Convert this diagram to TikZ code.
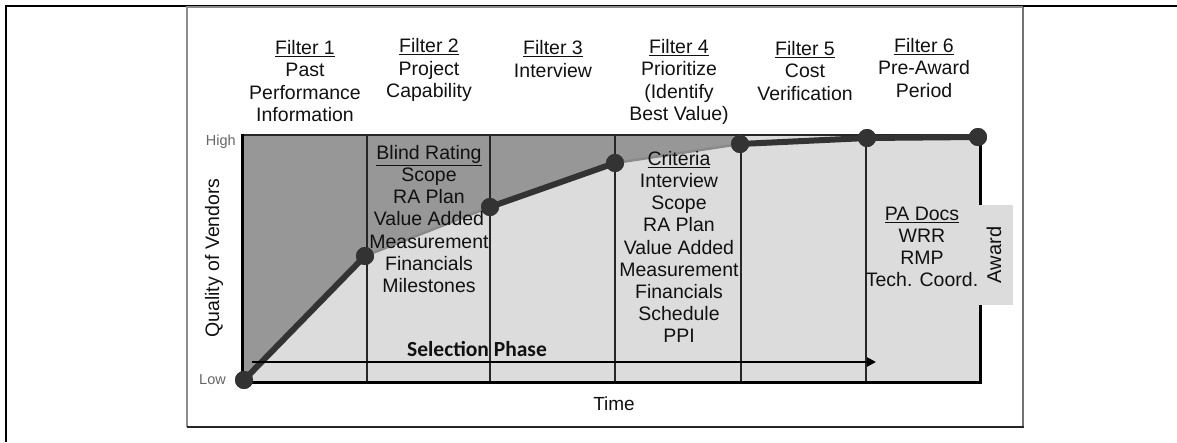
\documentclass[tikz,border=0pt]{standalone}
\usepackage{fontspec}
\setmainfont{Liberation Sans}
\newfontfamily\calib{Carlito}
\usetikzlibrary{arrows.meta}
\definecolor{darkfill}{HTML}{979797}
\definecolor{lightfill}{HTML}{DCDCDC}
\definecolor{curvec}{HTML}{333333}
\definecolor{softc}{HTML}{8A8A8A}
\definecolor{txt}{HTML}{111111}
\begin{document}
\begin{tikzpicture}[x=1pt,y=-1pt,
  lbl/.style={font=\fontsize{19.5}{22.2}\selectfont, align=center, inner sep=0pt, text=txt},
  dotnode/.style={circle, fill=curvec, minimum size=18pt, inner sep=0pt},
  heavyseg/.style={draw=curvec, line width=6pt, line cap=round},
  softseg/.style={draw=softc, line width=2.5pt},
  divider/.style={draw=black!85, line width=1.2pt},
  axisline/.style={draw=black, line width=3pt},
  smalllbl/.style={font=\fontsize{14.5}{16}\selectfont, text=black!60, inner sep=0pt}
]
\useasboundingbox (0,0) rectangle (1177,442);
% outer frame lines
\draw[line width=2pt] (6,442) -- (6,6) -- (1177,6);
% inner picture frame
\draw[draw=black!45, line width=1.2pt] (187,427) -- (187,7) -- (1023,7);
\draw[draw=black!55, line width=2pt] (1023,7) -- (1023,427);
\draw[draw=black!85, line width=2pt] (187,427) -- (1024,427);
% chart fills
\fill[lightfill] (242,135) rectangle (980,382);
\fill[darkfill] (242,135) -- (242,382) -- (365,256) -- (490,207) -- (615,163) -- (740,144) -- (740,135) -- cycle;
% dividers
\foreach \x in {367,490,615,741,866} \draw[divider] (\x,135) -- (\x,382);
% chart borders
\draw[draw=black!85, line width=1.5pt] (242,135) -- (980,135);
\draw[axisline] (242,133.5) -- (242,383.5);
\draw[axisline] (240.5,382) -- (981.5,382);
\draw[axisline] (980,135) -- (980,383.5);
% curve points
\node[dotnode] (p0) at (244,380) {};
\node[dotnode] (p1) at (365,256) {};
\node[dotnode] (p2) at (490,207) {};
\node[dotnode] (p3) at (615,163) {};
\node[dotnode] (p4) at (740,144) {};
\node[dotnode] (p5) at (867,138) {};
\node[dotnode] (p6) at (978,137) {};
\draw[heavyseg] (p0.center) -- (p1.center);
\draw[softseg] (p1.center) -- (p2.center);
\draw[heavyseg] (p2.center) -- (p3.center);
\draw[softseg] (p3.center) -- (p4.center);
\draw[heavyseg] (p4.center) -- (p5.center) -- (p6.center);
\node[dotnode] at (p0) {};
\node[dotnode] at (p1) {};
\node[dotnode] at (p2) {};
\node[dotnode] at (p3) {};
\node[dotnode] at (p4) {};
\node[dotnode] at (p5) {};
\node[dotnode] at (p6) {};
% selection phase arrow
\coordinate (sa) at (252,362);
\coordinate (sb) at (876,362);
\draw[line width=2pt, -{Triangle[length=9pt,width=9pt]}] (sa) -- (sb);
\node[font=\calib\bfseries\fontsize{21.5}{24}\selectfont, inner sep=0pt, text=txt] (sel) at (477,349) {Selection Phase};
% award
\node[font=\fontsize{20}{24}\selectfont, rotate=90, fill=lightfill, minimum width=100pt, minimum height=38pt, inner sep=0pt, text=txt] (award) at (994,255) {Award};
% headers
\node[lbl] (h1) at (305,81) {\underline{Filter 1}\\Past\\Performance\\Information};
\node[lbl] (h2) at (429,70) {\underline{Filter 2}\\Project\\Capability};
\node[lbl] (h3) at (553,59) {\underline{Filter 3}\\Interview};
\node[lbl] (h4) at (679,82) {\underline{Filter 4}\\Prioritize\\(Identify\\Best Value)};
\node[lbl] (h5) at (805,71) {\underline{Filter 5}\\Cost\\Verification};
\node[lbl] (h6) at (924,68) {\underline{Filter 6}\\Pre-Award\\Period};
% bodies
\node[lbl] (b2) at (429,219) {\underline{Blind Rating}\\Scope\\RA Plan\\Value Added\\Measurement\\Financials\\Milestones};
\node[lbl] (b4) at (679,247) {\underline{Criteria}\\Interview\\Scope\\RA Plan\\Value Added\\Measurement\\Financials\\Schedule\\PPI};
\node[lbl] (b6) at (922,247) {\underline{PA Docs}\\WRR\\RMP\\Tech. Coord.};
% axis labels
\node[smalllbl, anchor=east] (high) at (236,142) {High};
\node[smalllbl, anchor=east] (low) at (226,380) {Low};
\node[lbl, rotate=90] (qv) at (214,258) {Quality of Vendors};
\node[font=\fontsize{19}{22}\selectfont, inner sep=0pt, text=txt] (time) at (614,404) {Time};
\end{tikzpicture}
\end{document}
